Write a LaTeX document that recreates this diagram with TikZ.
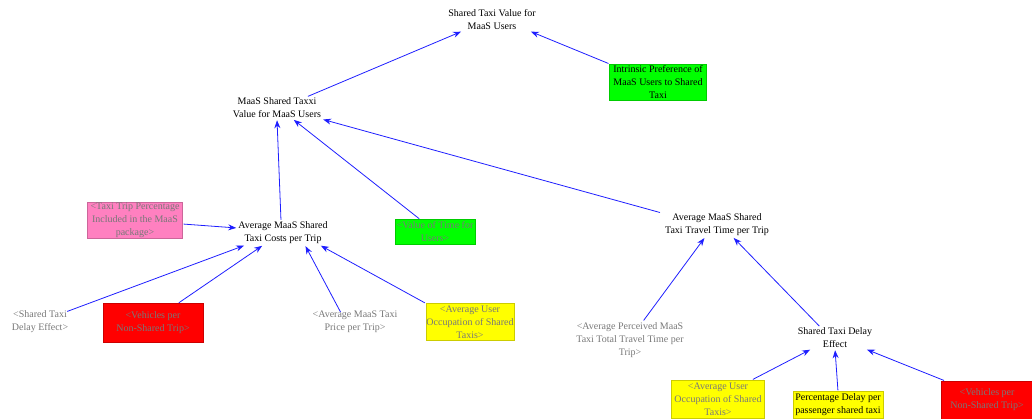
\documentclass[tikz,border=0pt]{standalone}
\usepackage{fontspec}
\setmainfont{Liberation Serif}
\usetikzlibrary{arrows.meta}
\definecolor{linkblue}{RGB}{30,30,255}
\definecolor{shadowgray}{RGB}{120,120,120}
\definecolor{boxgreen}{RGB}{0,255,0}
\definecolor{boxpink}{RGB}{255,128,192}
\definecolor{boxred}{RGB}{255,0,0}
\definecolor{boxyellow}{RGB}{255,255,0}
\begin{document}
\begin{tikzpicture}[x=1pt,y=-1pt,
  every node/.style={font=\fontsize{10}{13}\selectfont, align=center, inner sep=1pt},
  var/.style={text=black},
  shadow/.style={text=shadowgray},
  box/.style={draw=#1!80!black, line width=0.3pt, fill=#1, inner sep=0.5pt},
  link/.style={draw=linkblue, line width=0.8pt, -{Stealth[length=8pt,width=6pt]}, shorten >=1pt, shorten <=1pt}]
\useasboundingbox (0,0) rectangle (1032,418);

% level 0
\node[var] (top) at (492,20) {Shared Taxi Value for\\MaaS Users};
\node[var, box=boxgreen, minimum width=97, minimum height=36] (intr) at (658,82) {Intrinsic Preference of\\MaaS Users to Shared\\Taxi};

% level 1
\node[var] (mst) at (277,108) {MaaS Shared Taxxi\\Value for MaaS Users};

% level 2
\node[shadow, box=boxpink, minimum width=95, minimum height=36] (pct) at (135,220) {<Taxi Trip Percentage\\Included in the MaaS\\package>};
\node[var] (cost) at (283,233) {Average MaaS Shared\\Taxi Costs per Trip};
\node[shadow, box=boxgreen, minimum width=80, minimum height=25] (vot) at (435,232) {<Value of Time for\\Users>};
\node[var] (ttime) at (717,225) {Average MaaS Shared\\Taxi Travel Time per Trip};

% level 3
\node[shadow] (sdel) at (40,322) {<Shared Taxi\\Delay Effect>};
\node[shadow, box=boxred, minimum width=100, minimum height=39] (veh1) at (153,323) {<Vehicles per\\Non-Shared Trip>};
\node[shadow] (price) at (355,322) {<Average MaaS Taxi\\Price per Trip>};
\node[shadow, box=boxyellow, minimum width=86, minimum height=37] (occ1) at (470,322) {<Average User\\Occupation of Shared\\Taxis>};
\node[shadow] (perc) at (630,340) {<Average Perceived MaaS\\Taxi Total Travel Time per\\Trip>};
\node[var] (sde) at (835,338) {Shared Taxi Delay\\Effect};

% level 4
\node[shadow, box=boxyellow, minimum width=93, minimum height=38] (occ2) at (718,399) {<Average User\\Occupation of Shared\\Taxis>};
\node[var, box=boxyellow, minimum width=90, minimum height=27] (pdel) at (838,405) {Percentage Delay per\\passenger shared taxi};
\node[shadow, box=boxred, minimum width=92, minimum height=38] (veh2) at (987,400) {<Vehicles per\\Non-Shared Trip>};

% causal links
\draw[link] ([xshift=30pt]mst.north) -- ([xshift=-30pt]top.south);
\draw[link] (intr.north west) -- ([xshift=38pt]top.south);
\draw[link] (cost.north) ++(-2,0) coordinate (a3) (a3) -- (mst.south);
\draw[link] (vot.north) ++(-15,0) coordinate (a4) (a4) -- ([xshift=16pt]mst.south);
\draw[link] (ttime.north west) ++(-3,0) coordinate (a5) (a5) -- (mst.south east);
\draw[link] ([yshift=-4pt]pct.east) -- ([yshift=5pt]cost.west);
\draw[link] (sdel.north east) ++(-3,2) coordinate (a7) (a7) -- ([xshift=-38pt]cost.south);
\draw[link] ([xshift=25pt]veh1.north) -- ([xshift=-20pt]cost.south);
\draw[link] ([yshift=-3pt]price.north) ++(-14,0) coordinate (a9) (a9) -- ([xshift=22pt]cost.south);
\draw[link] (occ1.north west) -- ([xshift=37pt]cost.south);
\draw[link] ([xshift=13pt]perc.north) -- ([xshift=-12pt]ttime.south);
\draw[link] ([xshift=-15pt]sde.north) -- ([xshift=16pt]ttime.south);
\draw[link] ([xshift=34pt]occ2.north) -- ([xshift=-24pt]sde.south);
\draw[link] (pdel.north) -- (sde.south);
\draw[link] ([xshift=-42pt]veh2.north) -- ([xshift=31pt]sde.south);
\end{tikzpicture}
\end{document}
